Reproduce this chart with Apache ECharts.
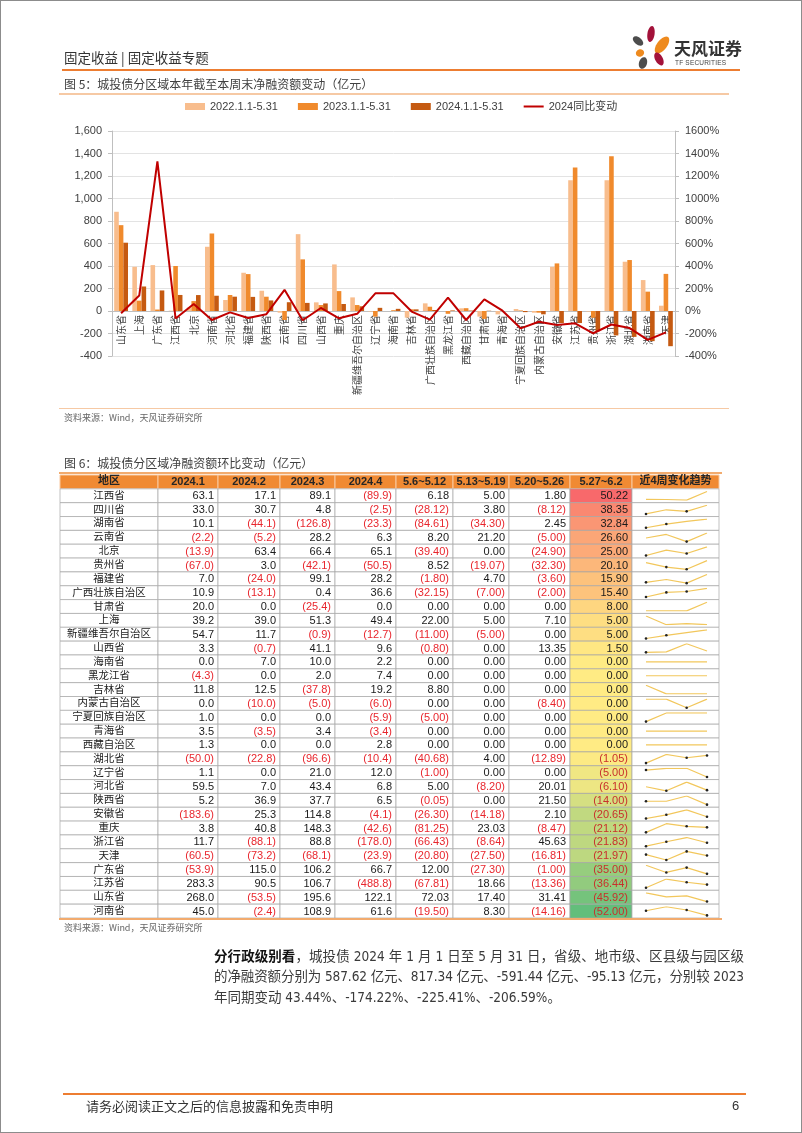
<!DOCTYPE html>
<html>
<head>
<meta charset="utf-8">
<script src="https://cdn.jsdelivr.net/npm/echarts/dist/echarts.min.js"></script>
<style>
html,body{margin:0;padding:0;background:#fff;}
#page{position:relative;width:802px;height:1133px;overflow:hidden;background:#fff;}
#chart{position:absolute;left:0;top:0;width:802px;height:1133px;}
.t{position:absolute;white-space:nowrap;font-family:'Liberation Sans','Noto Sans CJK SC',sans-serif;color:#333;z-index:5;}
.ln{position:absolute;z-index:5;}
#frame{position:absolute;left:0;top:0;width:800px;height:1131px;border:1px solid #8c8c8c;z-index:6;pointer-events:none;}
.para{position:absolute;left:214px;white-space:nowrap;font-family:'Liberation Sans Narrow','DejaVu Sans Condensed','Noto Sans CJK SC',sans-serif;font-size:13.5px;color:#3a3a3a;z-index:5;line-height:20px;}
.para b{color:#111;font-family:'Noto Sans CJK SC',sans-serif;}
</style>
</head>
<body>
<div id="page">
  <div id="chart"></div>
  <div id="frame"></div>
  <!-- header -->
  <div class="t" style="left:64px;top:48px;font-size:13.5px;line-height:18px;color:#333;font-family:'Noto Sans CJK SC',sans-serif;">固定收益 | 固定收益专题</div>
  <div class="ln" style="left:62px;top:69px;width:678px;height:2px;background:#ed7d31;"></div>
  <div class="t" style="left:674px;top:37px;font-size:17px;line-height:22px;font-weight:bold;color:#333;font-family:'Noto Sans CJK SC',sans-serif;">天风证券</div>
  <div class="t" style="left:675px;top:59px;font-size:6.5px;line-height:8px;color:#444;letter-spacing:0.2px;">TF SECURITIES</div>
  <!-- figure 5 -->
  <div class="t" style="left:64px;top:76px;font-size:12px;line-height:16px;color:#404040;font-family:'Noto Sans CJK SC',sans-serif;">图 5：城投债分区域本年截至本周末净融资额变动（亿元）</div>
  <div class="ln" style="left:59px;top:93px;width:670px;height:1.5px;background:#f6c9a4;"></div>
  <div class="ln" style="left:59px;top:408px;width:670px;height:1px;background:#f6c9a4;"></div>
  <div class="t" style="left:64px;top:412px;font-size:9px;line-height:12px;color:#666;font-family:'Noto Sans CJK SC',sans-serif;">资料来源：Wind，天风证券研究所</div>
  <!-- figure 6 -->
  <div class="t" style="left:64px;top:455px;font-size:12px;line-height:16px;color:#404040;font-family:'Noto Sans CJK SC',sans-serif;">图 6：城投债分区域净融资额环比变动（亿元）</div>
  <div class="ln" style="left:59px;top:472px;width:663px;height:1.5px;background:#f2ab6e;"></div>
  <div class="ln" style="left:59px;top:918px;width:663px;height:1.5px;background:#f2ab6e;"></div>
  <div class="t" style="left:64px;top:922px;font-size:9px;line-height:12px;color:#666;font-family:'Noto Sans CJK SC',sans-serif;">资料来源：Wind，天风证券研究所</div>
  <!-- paragraph -->
  <div class="para" id="p1" style="top:945px;"><b>分行政级别看</b>，城投债 2024 年 1 月 1 日至 5 月 31 日，省级、地市级、区县级与园区级</div>
  <div class="para" id="p2" style="top:966px;">的净融资额分别为 587.62 亿元、817.34 亿元、-591.44 亿元、-95.13 亿元，分别较 2023</div>
  <div class="para" id="p3" style="top:987px;">年同期变动 43.44%、-174.22%、-225.41%、-206.59%。</div>
  <!-- footer -->
  <div class="ln" style="left:63px;top:1093px;width:683px;height:2px;background:#ed7d31;"></div>
  <div class="t" style="left:86px;top:1097px;font-size:13px;line-height:17px;color:#333;font-family:'Noto Sans CJK SC',sans-serif;">请务必阅读正文之后的信息披露和免责申明</div>
  <div class="t" style="left:732px;top:1097px;font-size:13px;line-height:17px;color:#333;">6</div>
</div>
<script>
// ---------------- Figure 5 data ----------------
const categories = ['山东省','上海','广东省','江西省','北京','河南省','河北省','福建省','陕西省','云南省','四川省','山西省','重庆','新疆维吾尔自治区','辽宁省','海南省','吉林省','广西壮族自治区','黑龙江省','西藏自治区','甘肃省','青海省','宁夏回族自治区','内蒙古自治区','安徽省','江苏省','贵州省','浙江省','湖北省','湖南省','天津'];
const netFin2022 = [882, 393, 408, 3, 30, 571, 98, 340, 180, -15, 683, 77, 414, 121, -5, 0, -59, 68, 0, 24, -50, -30, 18, -15, 393, 1163, -5, 1163, 438, 275, 47];
const netFin2023 = [763, 92, 13, 400, 88, 689, 142, 328, 127, -80, 459, 53, 177, 53, -50, 7, 15, 38, -25, 25, -70, 0, 5, -15, 423, 1275, -60, 1376, 453, 172, 330];
const netFin2024 = [607.1, 218.0, 182.7, 142.6, 141.7, 135.7, 127.4, 125.5, 93.8, 78.1, 72.0, 67.4, 62.5, 41.8, 28.1, 19.2, 14.5, 9.1, 5.1, 4.1, 2.6, 0.0, -9.9, -29.4, -106.6, -107.2, -178.9, -217.0, -230.1, -267.8, -312.8];
const yoy2024 = [-20, 137, 1331, -66, 62, -80, -12, -62, -28, 188, -82, 27, -65, -25, 157, 157, -5, -76, 118, -80, 104, 3, -154, -95, -125, -109, -198, -120, -152, -257, -190];
const seriesNames = ['2022.1.1-5.31', '2023.1.1-5.31', '2024.1.1-5.31', '2024同比变动'];
const leftAxisRange = [-400, 1600, 200];
const rightAxisRange = [-400, 1600, 200];

// ---------------- Figure 6 data ----------------
const tableHeaders = ['地区','2024.1','2024.2','2024.3','2024.4','5.6~5.12','5.13~5.19','5.20~5.26','5.27~6.2','近4周变化趋势'];
const regions = ['江西省','四川省','湖南省','云南省','北京','贵州省','福建省','广西壮族自治区','甘肃省','上海','新疆维吾尔自治区','山西省','海南省','黑龙江省','吉林省','内蒙古自治区','宁夏回族自治区','青海省','西藏自治区','湖北省','辽宁省','河北省','陕西省','安徽省','重庆','浙江省','天津','广东省','江苏省','山东省','河南省'];
const m2024_1 = [63.1, 33.0, 10.1, -2.2, -13.9, -67.0, 7.0, 10.9, 20.0, 39.2, 54.7, 3.3, 0.0, -4.3, 11.8, 0.0, 1.0, 3.5, 1.3, -50.0, 1.1, 59.5, 5.2, -183.6, 3.8, 11.7, -60.5, -53.9, 283.3, 268.0, 45.0];
const m2024_2 = [17.1, 30.7, -44.1, -5.2, 63.4, 3.0, -24.0, -13.1, 0.0, 39.0, 11.7, -0.7, 7.0, 0.0, 12.5, -10.0, 0.0, -3.5, 0.0, -22.8, 0.0, 7.0, 36.9, 25.3, 40.8, -88.1, -73.2, 115.0, 90.5, -53.5, -2.4];
const m2024_3 = [89.1, 4.8, -126.8, 28.2, 66.4, -42.1, 99.1, 0.4, -25.4, 51.3, -0.9, 41.1, 10.0, 2.0, -37.8, -5.0, 0.0, 3.4, 0.0, -96.6, 21.0, 43.4, 37.7, 114.8, 148.3, 88.8, -68.1, 106.2, 106.7, 195.6, 108.9];
const m2024_4 = [-89.9, -2.5, -23.3, 6.3, 65.1, -50.5, 28.2, 36.6, 0.0, 49.4, -12.7, 9.6, 2.2, 7.4, 19.2, -6.0, -5.9, -3.4, 2.8, -10.4, 12.0, 6.8, 6.5, -4.1, -42.6, -178.0, -23.9, 66.7, -488.8, 122.1, 61.6];
const w0506 = [6.18, -28.12, -84.61, 8.20, -39.40, 8.52, -1.80, -32.15, 0.00, 22.00, -11.00, -0.80, 0.00, 0.00, 8.80, 0.00, -5.00, 0.00, 0.00, -40.68, -1.00, 5.00, -0.05, -26.30, -81.25, -66.43, -20.80, 12.00, -67.81, 72.03, -19.50];
const w0513 = [5.00, 3.80, -34.30, 21.20, 0.00, -19.07, 4.70, -7.00, 0.00, 5.00, -5.00, 0.00, 0.00, 0.00, 0.00, 0.00, 0.00, 0.00, 0.00, 4.00, 0.00, -8.20, 0.00, -14.18, 23.03, -8.64, -27.50, -27.30, 18.66, 17.40, 8.30];
const w0520 = [1.80, -8.12, 2.45, -5.00, -24.90, -32.30, -3.60, -2.00, 0.00, 7.10, 0.00, 13.35, 0.00, 0.00, 0.00, -8.40, 0.00, 0.00, 0.00, -12.89, 0.00, 20.01, 21.50, 2.10, -8.47, 45.63, -16.81, -1.00, -13.36, 31.41, -14.16];
const w0527 = [50.22, 38.35, 32.84, 26.60, 25.00, 20.10, 15.90, 15.40, 8.00, 5.00, 5.00, 1.50, 0.00, 0.00, 0.00, 0.00, 0.00, 0.00, 0.00, -1.05, -5.00, -6.10, -14.00, -20.65, -21.12, -21.83, -21.97, -35.00, -36.44, -45.92, -52.00];

// ---------------- layout (not data) ----------------
const FONT = "'Liberation Sans','Noto Sans CJK SC',sans-serif";
const CJK = "'Noto Sans CJK SC',sans-serif";
const TABLE_LEFT = 60, TABLE_TOP = 475, TABLE_W = 659, TABLE_H = 443;
const COL_EDGES = [0, 98, 158, 220, 275, 336, 393, 449, 510, 572, 659];
const ROW_H = TABLE_H / (regions.length + 1);
const CHART_TOP = 131, CHART_H = 225;
const ZERO_OFFSET = -CHART_H * (0 - leftAxisRange[0]) / (leftAxisRange[1] - leftAxisRange[0]);

const colValues = [null, m2024_1, m2024_2, m2024_3, m2024_4, w0506, w0513, w0520, w0527];
function fmt(v, d) { return v < 0 ? '(' + Math.abs(v).toFixed(d) + ')' : v.toFixed(d); }
const HEAT_MAX = Math.max.apply(null, w0527), HEAT_MIN = Math.min.apply(null, w0527);
function lerp(a, b, t) { return 'rgb(' + a.map((x, k) => Math.round(x + (b[k] - x) * t)).join(',') + ')'; }
function heatColor(v) {
  const yel = [255, 235, 132], red = [248, 105, 107], grn = [99, 190, 123];
  return v >= 0 ? lerp(yel, red, v / HEAT_MAX) : lerp(yel, grn, v / HEAT_MIN);
}

function renderCell(params, api) {
  const c = api.value(0), r = api.value(1);
  const a = api.coord([COL_EDGES[c], r]);
  const b = api.coord([COL_EDGES[c + 1], r]);
  const h = api.size([0, 1])[1];
  const x0 = a[0], x1 = b[0], y0 = a[1] - h / 2, yc = a[1];
  const children = [];
  if (r === 0) {
    children.push({ type: 'rect', shape: { x: x0, y: y0, width: x1 - x0, height: h }, style: { fill: '#f08a33', stroke: '#f9c9a0', lineWidth: 1 } });
    children.push({ type: 'text', style: { text: tableHeaders[c], x: (x0 + x1) / 2, y: yc - (c === 0 || c === 9 ? 0.8 : -0.3), align: 'center', verticalAlign: 'middle', fontSize: 11, fontWeight: 'bold', fontFamily: FONT, fill: '#262626' } });
  } else {
    const i = r - 1;
    const fill = c === 8 ? heatColor(w0527[i]) : '#ffffff';
    children.push({ type: 'rect', shape: { x: x0, y: y0, width: x1 - x0, height: h }, style: { fill: fill, stroke: '#a6a6a6', lineWidth: 0.7 } });
    if (c === 0) {
      children.push({ type: 'text', style: { text: regions[i], x: (x0 + x1) / 2, y: yc - 1, align: 'center', verticalAlign: 'middle', fontSize: 10.5, fontFamily: CJK, fill: '#1a1a1a' } });
    } else if (c < 9) {
      const v = colValues[c][i];
      const d = c <= 4 ? 1 : 2;
      children.push({ type: 'text', style: { text: fmt(v, d), x: x1 - 4, y: yc + 0.5, align: 'right', verticalAlign: 'middle', fontSize: 11, fontFamily: FONT, fill: v < 0 ? (c === 8 ? '#c8302c' : '#e8262d') : '#1a1a1a' } });
    }
  }
  return { type: 'group', children: children };
}

const cells = [];
for (let r = 0; r <= regions.length; r++) for (let c = 0; c < 10; c++) cells.push([c, r]);

// ---------------- build option ----------------
const grids = [
  { left: 112, top: CHART_TOP, width: 563, height: CHART_H, outerBoundsMode: 'none' },
  { left: TABLE_LEFT, top: TABLE_TOP, width: TABLE_W, height: TABLE_H, outerBoundsMode: 'none' }
];
const xAxes = [
  { type: 'category', gridIndex: 0, data: categories, position: 'bottom', offset: ZERO_OFFSET,
    axisLine: { onZero: false, lineStyle: { color: '#bfbfbf' } }, axisTick: { show: false },
    axisLabel: { rotate: 90, interval: 0, fontSize: 10, margin: 4, color: '#404040', fontFamily: CJK } },
  { type: 'value', gridIndex: 1, min: 0, max: TABLE_W, show: false }
];
const yAxes = [
  { type: 'value', gridIndex: 0, min: leftAxisRange[0], max: leftAxisRange[1], interval: leftAxisRange[2],
    axisLine: { show: true, lineStyle: { color: '#bfbfbf' } }, axisTick: { show: true, length: 4, lineStyle: { color: '#bfbfbf' } },
    splitLine: { lineStyle: { color: '#e3e3e3' } },
    axisLabel: { fontSize: 11, color: '#404040', margin: 10, fontFamily: FONT, formatter: v => v.toLocaleString('en-US') } },
  { type: 'value', gridIndex: 0, position: 'right', min: rightAxisRange[0], max: rightAxisRange[1], interval: rightAxisRange[2],
    axisLine: { show: true, lineStyle: { color: '#bfbfbf' } }, axisTick: { show: true, length: 4, lineStyle: { color: '#bfbfbf' } },
    splitLine: { show: false },
    axisLabel: { fontSize: 11, color: '#404040', margin: 10, fontFamily: FONT, formatter: v => String(v) + '%' } },
  { type: 'category', gridIndex: 1, data: ['header'].concat(regions), inverse: true, show: false }
];
const series = [
  { name: seriesNames[0], type: 'bar', xAxisIndex: 0, yAxisIndex: 0, data: netFin2022, itemStyle: { color: '#f8bd8d' }, barGap: '0%', barCategoryGap: '24%', animation: false },
  { name: seriesNames[1], type: 'bar', xAxisIndex: 0, yAxisIndex: 0, data: netFin2023, itemStyle: { color: '#f08a2c' }, barGap: '0%', barCategoryGap: '24%', animation: false },
  { name: seriesNames[2], type: 'bar', xAxisIndex: 0, yAxisIndex: 0, data: netFin2024, itemStyle: { color: '#c55a11' }, barGap: '0%', barCategoryGap: '24%', animation: false },
  { name: seriesNames[3], type: 'line', xAxisIndex: 0, yAxisIndex: 1, data: yoy2024, symbol: 'none', lineStyle: { color: '#c00000', width: 2 }, itemStyle: { color: '#c00000' }, animation: false, z: 4 },
  { type: 'custom', xAxisIndex: 1, yAxisIndex: 2, data: cells, renderItem: renderCell, clip: false, animation: false, silent: true, z: 1 }
];

// sparklines: one tiny grid per table row
const sparkLeft = TABLE_LEFT + COL_EDGES[9] + 14;
const sparkW = (COL_EDGES[10] - COL_EDGES[9]) - 26;
regions.forEach((name, i) => {
  const gi = grids.length;
  grids.push({ left: sparkLeft, width: sparkW, top: TABLE_TOP + (i + 1) * ROW_H + 2.6, height: ROW_H - 5.2, outerBoundsMode: 'none' });
  const xi = xAxes.length, yi = yAxes.length;
  xAxes.push({ type: 'category', gridIndex: gi, data: ['w1', 'w2', 'w3', 'w4'], boundaryGap: false, show: false });
  yAxes.push({ type: 'value', gridIndex: gi, show: false, scale: true,
    min: v => (v.max === v.min ? v.min - 1 : v.min), max: v => (v.max === v.min ? v.max + 1 : v.max) });
  const vals = [w0506[i], w0513[i], w0520[i], w0527[i]];
  series.push({ type: 'line', xAxisIndex: xi, yAxisIndex: yi, silent: true, animation: false, z: 6,
    data: vals.map(v => ({ value: v, symbol: v < 0 ? 'circle' : 'none' })),
    symbolSize: 2.6, showSymbol: true, itemStyle: { color: '#222' },
    lineStyle: { color: '#f2c75c', width: 1.2 } });
});

const chart = echarts.init(document.getElementById('chart'), null, { renderer: 'canvas', width: 802, height: 1133 });
chart.setOption({
  backgroundColor: 'transparent',
  animation: false,
  textStyle: { fontFamily: FONT },
  legend: {
    data: [
      { name: seriesNames[0], icon: 'rect' },
      { name: seriesNames[1], icon: 'rect' },
      { name: seriesNames[2], icon: 'rect' },
      { name: seriesNames[3], icon: 'path://M0,0H20V2H0Z' }
    ],
    left: 180, top: 96, itemWidth: 20, itemHeight: 7, itemGap: 20,
    textStyle: { fontSize: 11, color: '#404040', fontFamily: FONT }
  },
  graphic: [
    { type: 'ellipse', x: 651, y: 34, rotation: -0.15, shape: { cx: 0, cy: 0, rx: 3.6, ry: 8 }, style: { fill: '#a3123a' } },
    { type: 'ellipse', x: 662, y: 45, rotation: -0.65, shape: { cx: 0, cy: 0, rx: 5, ry: 10 }, style: { fill: '#ee8a1e' } },
    { type: 'ellipse', x: 638, y: 41, rotation: 0.9, shape: { cx: 0, cy: 0, rx: 3.6, ry: 6 }, style: { fill: '#4d4d4d' } },
    { type: 'ellipse', x: 640, y: 53, rotation: 0.3, shape: { cx: 0, cy: 0, rx: 4.2, ry: 3.6 }, style: { fill: '#ee8a1e' } },
    { type: 'ellipse', x: 659, y: 59, rotation: 0.5, shape: { cx: 0, cy: 0, rx: 3.8, ry: 7 }, style: { fill: '#a3123a' } },
    { type: 'ellipse', x: 643, y: 63, rotation: -0.3, shape: { cx: 0, cy: 0, rx: 4, ry: 6 }, style: { fill: '#4d4d4d' } }
  ],
  grid: grids,
  xAxis: xAxes,
  yAxis: yAxes,
  series: series
});

// justify paragraph lines to the text block width
function justify(id, width) {
  const el = document.getElementById(id);
  el.style.letterSpacing = '0px';
  const w = el.getBoundingClientRect().width;
  const n = Array.from(el.textContent).length;
  if (n > 1) el.style.letterSpacing = ((width - w) / (n - 1)) + 'px';
}
justify('p1', 530);
justify('p2', 530);
</script>
</body>
</html>
